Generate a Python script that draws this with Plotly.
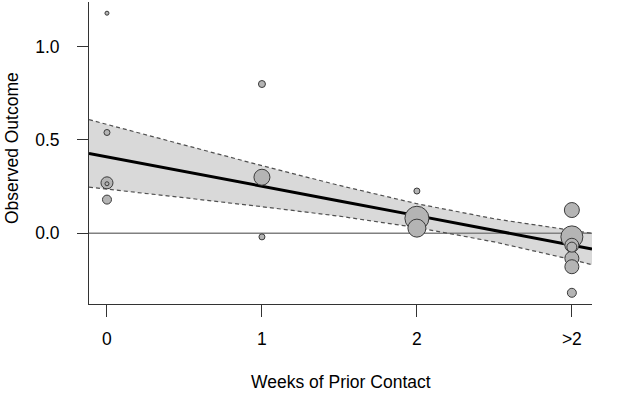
import plotly.graph_objects as go

# Observed effects (x = weeks of prior contact, 3 = ">2")
pt_x = [0, 0, 0, 0, 0, 1, 1, 1, 2, 2, 2, 3, 3, 3, 3, 3, 3, 3]
pt_y = [1.18, 0.54, 0.27, 0.265, 0.18, 0.80, 0.30, -0.02, 0.226, 0.08, 0.027,
        0.124, -0.02, -0.065, -0.075, -0.135, -0.18, -0.32]
pt_size = [4, 6, 12, 4, 9, 7, 16, 6, 6, 24, 18, 15, 22, 14, 10, 14, 14, 9]

# Fitted line and confidence band (read at sample positions)
fit_x = [-0.116, 0, 0.5, 1, 1.5, 2, 2.5, 3, 3.13]
fit_y = [0.428, 0.41, 0.331, 0.252, 0.173, 0.094, 0.015, -0.064, -0.085]
ci_up = [0.609, 0.583, 0.472, 0.362, 0.256, 0.158, 0.077, 0.014, -0.001]
ci_lo = [0.247, 0.237, 0.190, 0.142, 0.091, 0.030, -0.047, -0.142, -0.169]

x_tickvals = [0, 1, 2, 3]
x_ticktext = ["0", "1", "2", ">2"]
y_tickvals = [0.0, 0.5, 1.0]
y_ticktext = ["0.0", "0.5", "1.0"]

X_RANGE = [-0.116, 3.13]
Y_RANGE = [-0.38, 1.24]

fig = go.Figure()
fig.add_trace(go.Scatter(x=fit_x + fit_x[::-1], y=ci_up + ci_lo[::-1], fill="toself",
                         fillcolor="#d9d9d9", line=dict(width=0), mode="lines",
                         hoverinfo="skip", showlegend=False))
fig.add_trace(go.Scatter(x=X_RANGE, y=[0, 0], mode="lines",
                         line=dict(color="#808080", width=1.5), showlegend=False))
for ys in (ci_up, ci_lo):
    fig.add_trace(go.Scatter(x=fit_x, y=ys, mode="lines",
                             line=dict(color="#505050", width=1.2, dash="4px,3px"),
                             showlegend=False))
fig.add_trace(go.Scatter(x=fit_x, y=fit_y, mode="lines",
                         line=dict(color="black", width=3), showlegend=False))

order = sorted(range(len(pt_x)), key=lambda i: -pt_size[i])
fig.add_trace(go.Scatter(x=[pt_x[i] for i in order], y=[pt_y[i] for i in order],
                         mode="markers",
                         marker=dict(size=[pt_size[i] for i in order], color="#b4b4b4",
                                     line=dict(color="#3a3a3a", width=1), opacity=1),
                         showlegend=False))

font = dict(family="Liberation Sans, Arial, sans-serif", size=17.5, color="black")
fig.update_layout(
    width=617, height=395, margin=dict(l=89, r=25, t=2, b=91),
    plot_bgcolor="white", paper_bgcolor="white", font=font,
    xaxis=dict(range=X_RANGE, tickvals=x_tickvals, ticktext=x_ticktext,
               showline=True, linecolor="#333333", linewidth=1, ticks="outside",
               ticklen=12, tickcolor="#333333", showgrid=False, zeroline=False,
               ticklabelstandoff=7, tickfont=font),
    yaxis=dict(range=Y_RANGE, tickvals=y_tickvals, ticktext=y_ticktext,
               showline=True, linecolor="#333333", linewidth=1, ticks="outside",
               ticklen=11, tickcolor="#333333", showgrid=False, zeroline=False,
               ticklabelstandoff=14, tickfont=font),
    annotations=[
        dict(text="Weeks of Prior Contact", xref="paper", yref="paper", x=0.5, y=0,
             yshift=-78, showarrow=False, font=font, xanchor="center", yanchor="middle"),
        dict(text="Observed Outcome", xref="paper", yref="paper", x=0, y=0.5,
             xshift=-77, yshift=5, textangle=-90, showarrow=False, font=font,
             xanchor="center", yanchor="middle"),
    ],
)
fig.write_html("out.html", config={"displayModeBar": False},
               post_script="document.body.style.margin='0';")
